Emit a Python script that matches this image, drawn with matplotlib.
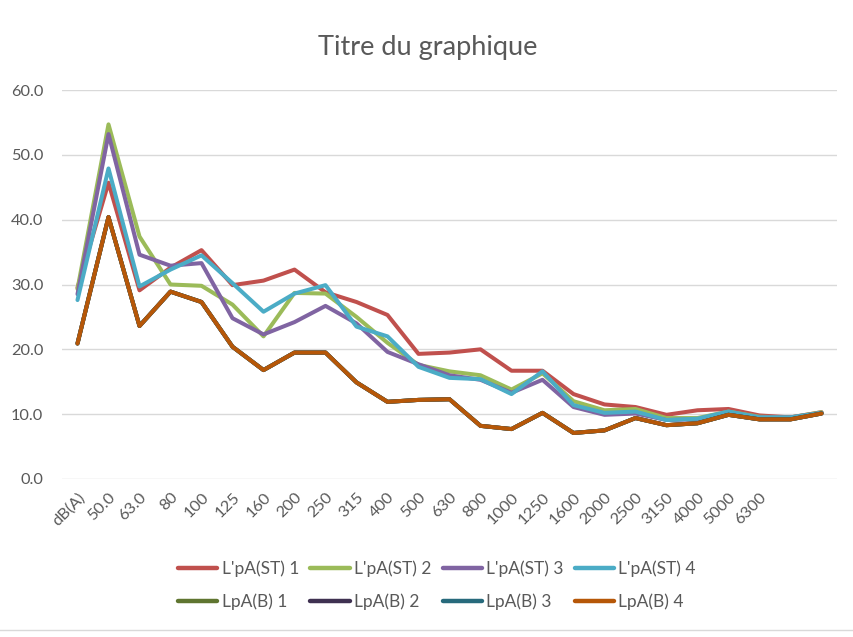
import matplotlib
matplotlib.use("Agg")
import matplotlib.pyplot as plt
import numpy as np
from matplotlib.lines import Line2D

categories = ["dB(A)", "50.0", "63.0", "80", "100", "125", "160", "200", "250", "315",
              "400", "500", "630", "800", "1000", "1250", "1600", "2000", "2500", "3150",
              "4000", "5000", "6300", "", ""]

st1 = [29.5, 45.7, 29.1, 32.6, 35.3, 29.9, 30.6, 32.3, 28.8, 27.3, 25.3, 19.3, 19.5, 20.0,
       16.7, 16.7, 13.1, 11.5, 11.1, 9.9, 10.6, 10.8, 9.8, 9.5, 10.3]
st2 = [29.3, 54.7, 37.4, 30.0, 29.8, 26.9, 22.0, 28.7, 28.6, 25.0, 21.0, 17.6, 16.6, 16.0,
       13.8, 16.3, 12.0, 10.6, 10.8, 9.4, 9.4, 10.4, 9.6, 9.5, 10.3]
st3 = [28.5, 53.2, 34.6, 32.9, 33.3, 24.8, 22.3, 24.2, 26.7, 24.0, 19.6, 17.7, 16.0, 15.3,
       13.3, 15.3, 11.1, 9.9, 10.1, 9.1, 9.2, 10.3, 9.5, 9.5, 10.2]
st4 = [27.6, 47.9, 29.7, 32.3, 34.5, 30.2, 25.8, 28.6, 29.9, 23.5, 22.0, 17.3, 15.6, 15.4,
       13.1, 16.6, 11.4, 10.2, 10.4, 9.1, 9.3, 10.4, 9.5, 9.5, 10.2]
b1 = [20.9, 40.4, 23.6, 28.9, 27.3, 20.4, 16.8, 19.5, 19.5, 14.9, 11.9, 12.2, 12.3, 8.2,
      7.7, 10.2, 7.1, 7.5, 9.4, 8.3, 8.6, 9.9, 9.2, 9.2, 10.1]
b2 = list(b1)
b3 = list(b1)
b4 = list(b1)

series_names = ["L'pA(ST) 1", "L'pA(ST) 2", "L'pA(ST) 3", "L'pA(ST) 4",
                "LpA(B) 1", "LpA(B) 2", "LpA(B) 3", "LpA(B) 4"]
series_values = [st1, st2, st3, st4, b1, b2, b3, b4]
colors = ["#C0504D", "#9BBB59", "#8064A2", "#4BACC6",
          "#5F7530", "#3F3151", "#276A7C", "#B65708"]

plt.rcParams['font.family'] = ['Lato', 'DejaVu Sans']
W, H = 854, 637
fig = plt.figure(figsize=(W / 100, H / 100), dpi=100)
ax = fig.add_axes([62 / W, 1 - 479 / H, (837 - 62) / W, (479 - 90) / H])

x = np.arange(len(categories))
handles = []
for name, vals, c in zip(series_names, series_values, colors):
    h, = ax.plot(x, vals, color=c, lw=2.9, solid_joinstyle='round', solid_capstyle='round',
                 label=name, zorder=3)
    handles.append(h)

ax.set_xlim(-0.5, len(categories) - 0.5)
ax.set_ylim(0, 60)
ax.set_yticks(np.arange(0, 61, 10))
ax.set_yticklabels([f"{v:.1f}" for v in np.arange(0, 61, 10)])
ax.set_xticks(x)
ax.set_xticklabels(categories, rotation=45, ha='right', rotation_mode='anchor')
ax.tick_params(axis='both', length=0, colors='#595959', labelsize=11.8)
ax.tick_params(axis='y', pad=13.5)
ax.tick_params(axis='x', pad=8)
ax.grid(axis='y', color='#D9D9D9', lw=1.0, zorder=0)
for s in ax.spines.values():
    s.set_visible(False)

fig.text(428 / W, 1 - 48 / H, "Titre du graphique", ha='center', va='center',
         fontsize=19.5, color='#595959')

order = [0, 4, 1, 5, 2, 6, 3, 7]
leg = fig.legend([handles[i] for i in order], [series_names[i] for i in order],
                 loc='center', bbox_to_anchor=(437 / W, 1 - 585 / H), ncol=4,
                 frameon=False, fontsize=12.5, handlelength=2.25, handletextpad=0.25,
                 columnspacing=0.65, labelspacing=0.95)
for t in leg.get_texts():
    t.set_color('#595959')
for lh in leg.legend_handles:
    lh.set_linewidth(3.2)

fig.add_artist(Line2D([0, 1], [1 - 630 / H, 1 - 630 / H], color='#D9D9D9', lw=1.0))

fig.savefig("out.png", dpi=100)
